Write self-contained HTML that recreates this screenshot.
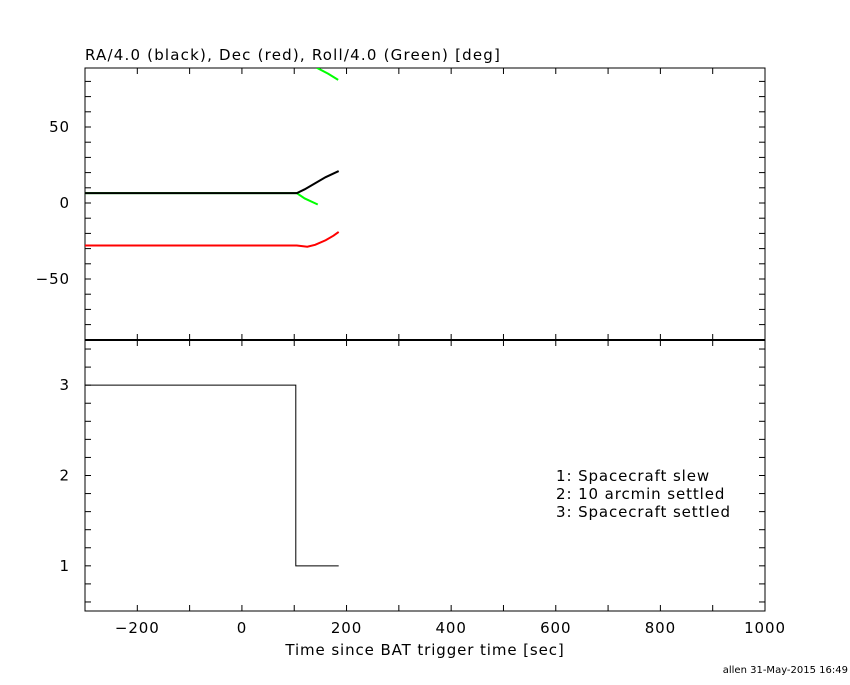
<!DOCTYPE html>
<html><head><meta charset="utf-8"><style>
body{margin:0;background:#fff;}
svg text{font-family:"DejaVu Sans","Liberation Sans",sans-serif;font-size:15px;fill:#000;letter-spacing:0.9px;}
</style></head><body>
<svg id="c" width="850" height="680" viewBox="0 0 850 680"></svg>
<script>
const raT=[-300,105,120,140,160,185];
const raV=[6.5,6.5,9,13,17,21];
const decT=[-300,105,125,140,160,175,185];
const decV=[-28,-28,-28.8,-27.5,-24.5,-21.5,-19];
const rollT=[-300,105,120,145];
const rollV=[6.5,6.5,3,-1];
const roll2T=[143,165,184];
const roll2V=[89,85,81];
const stT=[-300,103,103,185];
const stV=[3,3,1,1];
const xTicks=[-200,0,200,400,600,800,1000];
const yTopTicks=[-50,0,50];
const yBotTicks=[1,2,3];
const legendLines=["1: Spacecraft slew","2: 10 arcmin settled","3: Spacecraft settled"];

const NS="http://www.w3.org/2000/svg";
const svg=document.getElementById('c');
const L=85,R=765,T=68,M=340,B=611;
const X=v=>L+(v+300)*(R-L)/1300;
const Y1=v=>203-v*1.52;
const Y2=v=>B-(v-0.5)*(B-M)/3;
function el(tag,a,p){const e=document.createElementNS(NS,tag);for(const k in a)e.setAttribute(k,a[k]);(p||svg).appendChild(e);return e;}
function line(x1,y1,x2,y2,w){return el('line',{x1,y1,x2,y2,stroke:'#000','stroke-width':w||1});}

const cp=el('clipPath',{id:'cp'});el('rect',{x:L,y:T,width:R-L,height:M-T},cp);

const f1=el('rect',{x:L,y:T,width:R-L,height:M-T,fill:'none',stroke:'#000'});


const f2=el('rect',{x:L,y:M,width:R-L,height:B-M,fill:'none',stroke:'#000'});


line(L,M,R,M,2);

for(let v=-300;v<=1000;v+=100){const x=X(v);const len=6;
 line(x,T,x,T+len);line(x,M,x,M-len);line(x,M,x,M+len);line(x,B,x,B-len);}
for(let v=-80;v<=80;v+=10){const y=Y1(v);const len=6;line(L,y,L+len,y);line(R,y,R-len,y);}
for(let i=3;i<=17;i++){const v=i/5;const y=Y2(v);const len=6;line(L,y,L+len,y);line(R,y,R-len,y);}

xTicks.forEach(v=>{const t=el('text',{x:X(v),y:633,'text-anchor':'middle'});t.textContent=v<0?'\u2212'+(-v):v;
 
 });
yTopTicks.forEach(v=>{const t=el('text',{x:70,y:Y1(v)+5,'text-anchor':'end'});t.textContent=v<0?'\u2212'+(-v):v;
 
 });
yBotTicks.forEach(v=>{const t=el('text',{x:70,y:Y2(v)+5,'text-anchor':'end'});t.textContent=v;
 
 });

function series(ts,vs,fy,color,name,w,clip){const pts=ts.map((t,i)=>X(t)+','+fy(vs[i])).join(' ');
 const p=el('polyline',{points:pts,fill:'none',stroke:color,'stroke-width':w||2});
 if(clip)p.setAttribute('clip-path','url(#cp)');
 
 }
series(decT,decV,Y1,'#ff0000','dec-line',2,true);
series(rollT,rollV,Y1,'#00ff00','roll-line',2,true);
series(raT,raV,Y1,'#000','ra-line',2,true);
series(roll2T,roll2V,Y1,'#00ff00','roll-wrapped-line',2,true);
series(stT,stV,Y2,'#000','settle-state-line',1);

const tt=el('text',{x:85,y:60});tt.textContent='RA/4.0 (black), Dec (red), Roll/4.0 (Green) [deg]';tt.style.letterSpacing='1.2px';


const xt=el('text',{x:425,y:655,'text-anchor':'middle'});xt.textContent='Time since BAT trigger time [sec]';


legendLines.forEach((s,i)=>{const t=el('text',{x:556,y:481+i*18});t.textContent=s;
 
 });
const ft=el('text',{x:848,y:673,'text-anchor':'end'});ft.textContent='allen 31-May-2015 16:49';ft.style.fontSize='10px';ft.style.letterSpacing='0px';


</script>
</body></html>
